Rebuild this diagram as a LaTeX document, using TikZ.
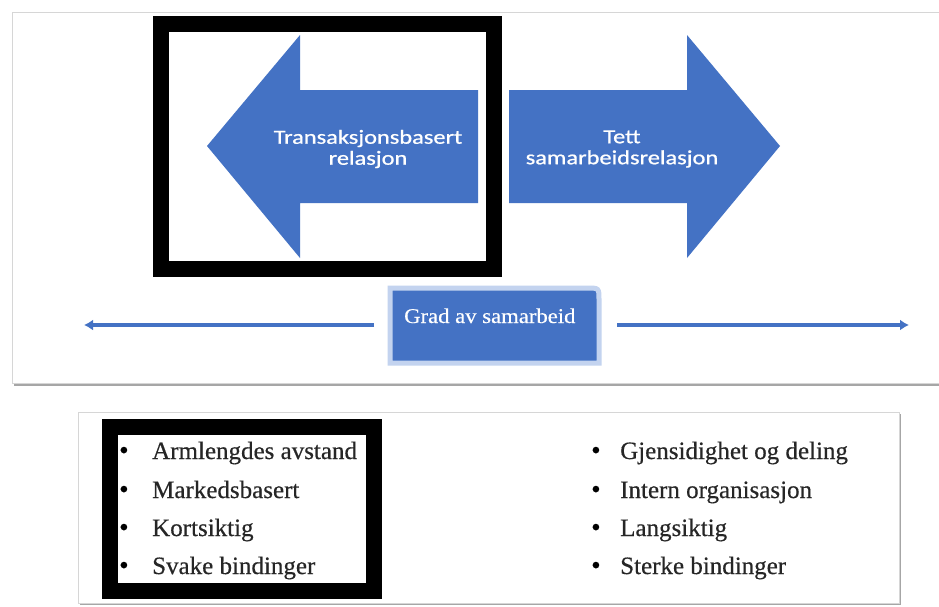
\documentclass[tikz,border=0pt]{standalone}
\usepackage{fontspec}
\setmainfont{Liberation Serif}
\newfontfamily\arrowfont[FakeStretch=1.22,FakeBold=0.8]{Carlito}
\newfontfamily\gradfont[FakeStretch=1.08,FakeBold=0.4]{Liberation Serif}
\newfontfamily\listfont[FakeBold=0.4]{Liberation Serif}
\usetikzlibrary{arrows.meta}
\definecolor{office}{HTML}{4472C4}
\definecolor{glow}{HTML}{C3D3EF}
\definecolor{txt}{HTML}{262626}
\definecolor{panelline}{HTML}{D6D6D6}
\definecolor{shadowc}{HTML}{A6A6A6}
\begin{document}
\begin{tikzpicture}[x=1pt,y=-1pt,
  bigarrow/.style={fill=office},
  arrowtext/.style={align=center, inner sep=0pt, text=white, font=\arrowfont\fontsize{20}{21}\selectfont},
  frame/.style={draw=black, line width=16pt},
  conn/.style={draw=office, line width=3.5pt, -{Latex[length=9pt,width=11pt]}},
  item/.style={anchor=base west, inner sep=0pt, text=txt, font=\listfont\fontsize{25}{28}\selectfont},
  bul/.style={anchor=base west, inner sep=0pt, text=black, font=\listfont\fontsize{27}{28}\selectfont}
]
\useasboundingbox (0,0) rectangle (939,606);
\fill[white] (0,0) rectangle (939,606);

% top panel
\fill[shadowc] (14,15) rectangle (945,386);
\filldraw[fill=white, draw=panelline, line width=0.8pt] (12,12) rectangle (943,383);

% bottom panel
\fill[shadowc] (80,414) rectangle (901,605);
\filldraw[fill=white, draw=panelline, line width=0.8pt] (78,412) rectangle (899,603);

% big arrows
\fill[bigarrow] (207,146) -- (300,35) -- (300,90) -- (478,90) -- (478,203) -- (300,203) -- (300,258) -- cycle;
\fill[bigarrow] (509,90) -- (687,90) -- (687,35) -- (780,146) -- (687,258) -- (687,203) -- (509,203) -- cycle;
\node[arrowtext] (ltext) at (368,149) {Transaksjonsbasert\\relasjon};
\node[arrowtext] (rtext) at (622,149) {Tett\\samarbeidsrelasjon};

% black frames
\draw[frame] (161,24) rectangle (494,269);
\draw[frame] (110,427) rectangle (374,591);

% grad box
\filldraw[fill=office, draw=glow, line width=5pt]
  (390,363) -- (390,288) -- (587,288) .. controls (599,288) .. (599,300) -- (599,363) -- cycle;
\node[anchor=base west, inner sep=0pt, text=white, font=\gradfont\fontsize{21}{24}\selectfont] (grad) at (404,323) {Grad av samarbeid};

% connectors
\coordinate (la) at (84,325);
\coordinate (lb) at (374,325);
\coordinate (ra) at (617,325);
\coordinate (rb) at (909,325);
\draw[conn] (lb) -- (la);
\draw[conn] (ra) -- (rb);

% bullet lists
\node[bul] (b1) at (119,459) {\textbullet};
\node[bul] (b2) at (119,498) {\textbullet};
\node[bul] (b3) at (119,536) {\textbullet};
\node[bul] (b4) at (119,574) {\textbullet};
\node[item] (l1) at (152,459) {Armlengdes avstand};
\node[item] (l2) at (152,498) {Markedsbasert};
\node[item] (l3) at (152,536) {Kortsiktig};
\node[item] (l4) at (152,574) {Svake bindinger};

\node[bul] (b5) at (591,459) {\textbullet};
\node[bul] (b6) at (591,498) {\textbullet};
\node[bul] (b7) at (591,536) {\textbullet};
\node[bul] (b8) at (591,574) {\textbullet};
\node[item] (r1) at (620,459) {Gjensidighet og deling};
\node[item] (r2) at (620,498) {Intern organisasjon};
\node[item] (r3) at (620,536) {Langsiktig};
\node[item] (r4) at (620,574) {Sterke bindinger};
\end{tikzpicture}
\end{document}
